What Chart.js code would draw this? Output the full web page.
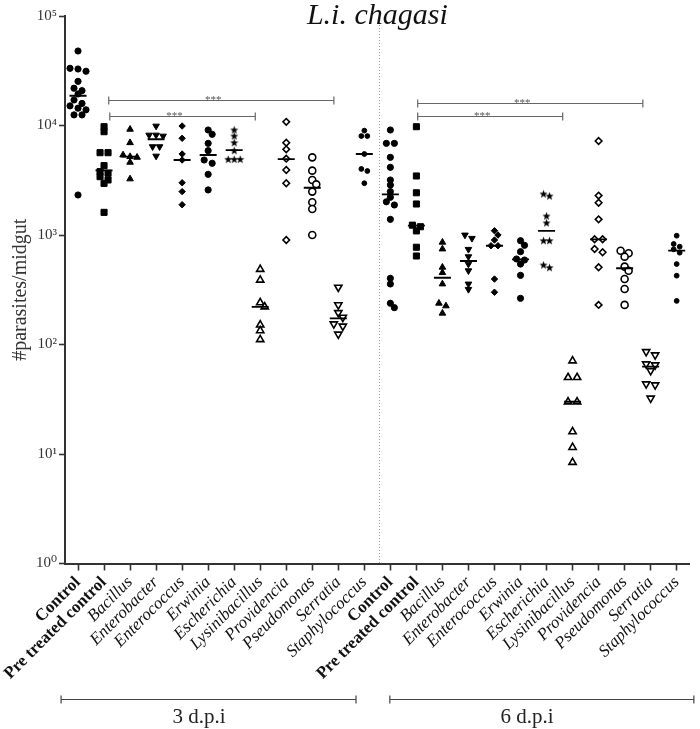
<!DOCTYPE html>
<html><head><meta charset="utf-8">
<script src="https://cdn.jsdelivr.net/npm/chart.js@4.4.1/dist/chart.umd.min.js"></script>
<style>html,body{margin:0;padding:0;background:#fff;}#wrap{position:relative;width:700px;height:729px;}</style>
</head><body><div id="wrap"><canvas id="c"></canvas></div>
<script>
// ---------- data ----------
const categories = ['Control','Pre treated control','Bacillus','Enterobacter','Enterococcus','Erwinia','Escherichia','Lysinibacillus','Providencia','Pseudomonas','Serratia','Staphylococcus'];
const timepoints = ['3 d.p.i','6 d.p.i'];
const chartTitle = 'L.i. chagasi';
const yAxisTitle = '#parasites/midgut';
const yTickValues = [1,10,100,1000,10000,100000];
const yTickLabels = ['10\u2070','10\u00b9','10\u00b2','10\u00b3','10\u2074','10\u2075'];

// 3 d.p.i
const d3_control = [47900,33300,32800,31300,25300,21900,20800,19400,17100,15900,15100,14400,13900,12500,12500,2320];
const d3_pretreated = [9750,8780,5650,5650,4300,3790,3660,3410,3180,2960,1610];
const d3_bacillus = [9230,6960,5380,5190,5120,4610,3250];
const d3_enterobacter = [9890,8180,8180,8010,6410,6410,5260];
const d3_enterococcus = [9890,7640,5490,4840,3000,2490,1890];
const d3_erwinia = [9100,8310,6870,5890,4840,4520,3580,2580];
const d3_escherichia = [9100,8010,6960,5890,4910,4910,4910];
const d3_lysinibacillus = [486,388,241,221,151,134,111];
const d3_providencia = [10800,6960,6060,4980,3920,2970,900];
const d3_pseudomonas = [5120,3870,3180,2900,2490,1990,1730,1000];
const d3_serratia = [333,230,195,177,154,147,124];
const d3_staphylococcus = [8980,8010,8010,5490,4010,3840,2970];
const d3_medians = [18700,3900,5190,7490,4840,5380,5950,221,4930,2700,173,5490];

// 6 d.p.i
const d6_control = [9100,6870,6870,5120,4150,3180,2860,2490,2210,2010,1880,1390,402,357,238,217];
const d6_pretreated = [9750,3460,2430,1920,1230,1190,1090,773,643];
const d6_bacillus = [858,745,507,453,357,238,225,193];
const d6_enterobacter = [1000,933,740,634,543,472,357,319];
const d6_enterococcus = [1094,1000,900,798,798,396,300];
const d6_erwinia = [887,805,704,604,591,543,428,264];
const d6_escherichia = [2370,2270,1490,1290,887,887,532,503];
const d6_lysinibacillus = [71,50,50,30,30,16,11.5,8.4];
const d6_providencia = [7210,2290,1970,1390,914,914,745,695,507,230];
const d6_pseudomonas = [719,681,634,514,472,396,321,230];
const d6_serratia = [85.9,80.2,66.4,65.0,57.6,43.6,42.7,32.3];
const d6_staphylococcus = [985,828,782,740,689,543,425,250];
const d6_medians = [2350,1220,407,579,798,598,1090,30,914,497,62.7,719];

// significance comparisons (category positions and level)
const sigFrom = [1.18, 1.22, 13.05, 13.05];
const sigTo = [9.83, 6.81, 21.7, 18.62];
const sigLevel = [17100, 12200, 16200, 12200];
const sigText = '***';
// time point spans on the category axis
const spanFrom = [-0.65, 11.98];
const spanTo = [10.68, 23.66];
const spanLabelAt = [4.65, 17.25];
const separatorAt = 11.55;

const groups3 = [d3_control,d3_pretreated,d3_bacillus,d3_enterobacter,d3_enterococcus,d3_erwinia,d3_escherichia,d3_lysinibacillus,d3_providencia,d3_pseudomonas,d3_serratia,d3_staphylococcus];
const groups6 = [d6_control,d6_pretreated,d6_bacillus,d6_enterobacter,d6_enterococcus,d6_erwinia,d6_escherichia,d6_lysinibacillus,d6_providencia,d6_pseudomonas,d6_serratia,d6_staphylococcus];

// ---------- styles ----------
const SERIF = "'Liberation Serif','DejaVu Serif',serif";
function makeStar(){
  const c = document.createElement('canvas'); c.width = 9; c.height = 9;
  const g = c.getContext('2d'); g.fillStyle = '#000'; g.beginPath();
  for (let k=0;k<10;k++){ const r = k%2===0 ? 4.3 : 1.8; const a = -Math.PI/2 + k*Math.PI/5; const px = 4.5 + r*Math.cos(a), py = 4.8 + r*Math.sin(a); k?g.lineTo(px,py):g.moveTo(px,py); }
  g.closePath(); g.fill(); return c;
}
const star = makeStar();
const filled = {backgroundColor:'#000', borderColor:'#000', borderWidth:1};
const open = {backgroundColor:'#fff', borderColor:'#000', borderWidth:1.6};
const styles = [
  Object.assign({pointStyle:'circle', pointRadius:3.1, gap:8}, filled),
  Object.assign({pointStyle:'rect', pointRadius:4.3, gap:8}, filled),
  Object.assign({pointStyle:'triangle', pointRadius:3.8, gap:7}, filled),
  Object.assign({pointStyle:'triangle', rotation:180, pointRadius:3.8, gap:7}, filled),
  Object.assign({pointStyle:'rectRot', pointRadius:3.2, gap:7}, filled),
  Object.assign({pointStyle:'circle', pointRadius:3.1, gap:8}, filled),
  {pointStyle:star, pointRadius:4, gap:6, backgroundColor:'#000', borderColor:'#000', borderWidth:0},
  Object.assign({pointStyle:'triangle', pointRadius:4.2, gap:9}, open),
  Object.assign({pointStyle:'rectRot', pointRadius:3.3, gap:8}, open),
  Object.assign({pointStyle:'circle', pointRadius:3.5, gap:8}, open),
  Object.assign({pointStyle:'triangle', rotation:180, pointRadius:4.2, gap:9}, open),
  Object.assign({pointStyle:'circle', pointRadius:2.4, gap:6}, filled)
];

const allLabels = timepoints.flatMap(() => categories);
const datasets = [];
[groups3, groups6].forEach((groups, t) => {
  groups.forEach((vals, c) => {
    const s = styles[c];
    datasets.push({
      label: timepoints[t] + ' ' + categories[c],
      data: vals.map(v => ({x: t*categories.length + c, y: v})),
      pointStyle: s.pointStyle, rotation: s.rotation || 0,
      pointRadius: s.pointRadius, pointHoverRadius: s.pointRadius,
      backgroundColor: s.backgroundColor, borderColor: s.borderColor, borderWidth: s.borderWidth,
      swarmGap: s.gap, showLine: false, order: 1
    });
  });
});
const medians = d3_medians.concat(d6_medians);
datasets.push({
  label: 'median', data: medians.map((m,i) => ({x:i, y:m})),
  pointStyle:'line', pointRadius:8.5, pointHoverRadius:8.5, borderColor:'#000', borderWidth:1.8,
  backgroundColor:'#000', showLine:false, order: 0
});

// ---------- plugins ----------
// scatter-dot-plot spreading: tied points side by side, near neighbours nudged sideways
const swarmPlugin = {
  id:'swarm',
  afterDatasetsUpdate(chart){
    chart.data.datasets.forEach((ds, di) => {
      if (!ds.swarmGap) return;
      const gap = ds.swarmGap, minD = gap*0.62;
      const els = chart.getDatasetMeta(di).data.slice().sort((a,b)=>a.y-b.y);
      const rows = []; let row = [];
      els.forEach(el => { if (row.length && el.y - row[0].y > 3.5) { rows.push(row); row = []; } row.push(el); });
      if (row.length) rows.push(row);
      const placed = [];
      const shifts = [0, gap/2, -gap/2, gap, -gap];
      let flip = 1;
      rows.forEach(r => {
        const n = r.length, cx = r[0].x;
        const base = r.map((el,k) => (k-(n-1)/2)*gap);
        const score = sh => Math.min(Infinity, ...r.map((el,k) => Math.min(Infinity, ...placed.map(p => Math.hypot(p.x - (cx+base[k]+sh), p.y - el.y)))));
        let best = null, bestScore = -1;
        for (const s0 of shifts) {
          const sh = s0 * flip;
          const sc = score(sh);
          if (sc >= minD) { best = sh; break; }
          if (sc > bestScore) { bestScore = sc; best = sh; }
        }
        if (best !== 0) flip = -flip;
        r.forEach((el,k) => { el.x = cx + base[k] + best; placed.push({x:el.x, y:el.y}); });
      });
    });
  }
};
const decorPlugin = {
  id:'decor',
  beforeDatasetsDraw(chart){
    const {ctx, chartArea, scales:{x}} = chart;
    ctx.save();
    ctx.strokeStyle = '#9a9a9a'; ctx.lineWidth = 1; ctx.setLineDash([1,2]);
    const sx = Math.round(x.getPixelForValue(separatorAt)) + 0.5;
    ctx.beginPath(); ctx.moveTo(sx, chartArea.top); ctx.lineTo(sx, chartArea.bottom); ctx.stroke();
    ctx.restore();
  },
  afterDraw(chart){
    const {ctx, chartArea, scales:{x, y}} = chart;
    ctx.save();
    ctx.strokeStyle = '#666'; ctx.lineWidth = 1.2; ctx.fillStyle = '#555';
    ctx.font = '11px ' + SERIF; ctx.textAlign = 'center'; ctx.textBaseline = 'alphabetic';
    sigLevel.forEach((lv, i) => {
      const x1 = x.getPixelForValue(sigFrom[i]), x2 = x.getPixelForValue(sigTo[i]);
      const yy = Math.round(y.getPixelForValue(lv)) + 0.5;
      ctx.beginPath();
      ctx.moveTo(x1, yy); ctx.lineTo(x2, yy);
      ctx.moveTo(x1, yy-4); ctx.lineTo(x1, yy+4);
      ctx.moveTo(x2, yy-4); ctx.lineTo(x2, yy+4);
      ctx.stroke();
      ctx.fillText(sigText, (x1+x2)/2 - 8, yy + 2);
    });
    ctx.fillStyle = '#111'; ctx.font = 'italic 30px ' + SERIF;
    ctx.fillText(chartTitle, (chartArea.left + chartArea.right)/2, 24);
    ctx.strokeStyle = '#444'; ctx.lineWidth = 1.2; ctx.fillStyle = '#222';
    ctx.font = '21px ' + SERIF;
    timepoints.forEach((tp, i) => {
      const x1 = x.getPixelForValue(spanFrom[i]), x2 = x.getPixelForValue(spanTo[i]);
      const yy = 699.5;
      ctx.beginPath();
      ctx.moveTo(x1, yy); ctx.lineTo(x2, yy);
      ctx.moveTo(x1, yy-4); ctx.lineTo(x1, yy+4);
      ctx.moveTo(x2, yy-4); ctx.lineTo(x2, yy+4);
      ctx.stroke();
      ctx.fillText(tp, x.getPixelForValue(spanLabelAt[i]), 723);
    });
    ctx.restore();
  }
};

new Chart(document.getElementById('c'), {
  type:'scatter',
  data:{ labels: allLabels, datasets },
  plugins:[swarmPlugin, decorPlugin],
  options:{
    responsive:true, maintainAspectRatio:false, animation:false,
    layout:{ padding:{ top:16, right:6, left:0, bottom:0 } },
    plugins:{ legend:{display:false}, tooltip:{enabled:false}, title:{display:false} },
    scales:{
      x:{
        type:'linear', min:-0.5, max:allLabels.length - 0.5,
        afterBuildTicks: s => { s.ticks = allLabels.map((_,i) => ({value:i})); },
        afterFit: s => { s.height = 165.5; },
        grid:{ drawOnChartArea:false, drawTicks:true, tickLength:7, tickColor:'#333', tickWidth:1.6 },
        border:{ display:true, color:'#333', width:2 },
        ticks:{
          autoSkip:false, minRotation:45, maxRotation:45, padding:2, color:'#111',
          callback: (v) => allLabels[v],
          font: (ctx) => {
            const i = ctx.index % categories.length;
            return i < 2 ? {family:SERIF, size:17, weight:'bold', style:'normal'}
                         : {family:SERIF, size:17, weight:'normal', style:'italic'};
          }
        }
      },
      y:{
        type:'logarithmic', min:1, max:100000,
        afterBuildTicks: s => { s.ticks = yTickValues.map(v => ({value:v})); },
        afterFit: s => { s.width = 65; },
        grid:{ drawOnChartArea:false, drawTicks:true, tickLength:6, tickColor:'#333', tickWidth:1.6 },
        border:{ display:true, color:'#333', width:2 },
        ticks:{
          padding:2, color:'#333', font:{family:SERIF, size:15},
          callback: (v) => yTickLabels[yTickValues.indexOf(v)]
        },
        title:{ display:true, text:yAxisTitle, color:'#333', font:{family:SERIF, size:20}, padding:{top:9, bottom:0} }
      }
    }
  }
});
</script></body></html>
